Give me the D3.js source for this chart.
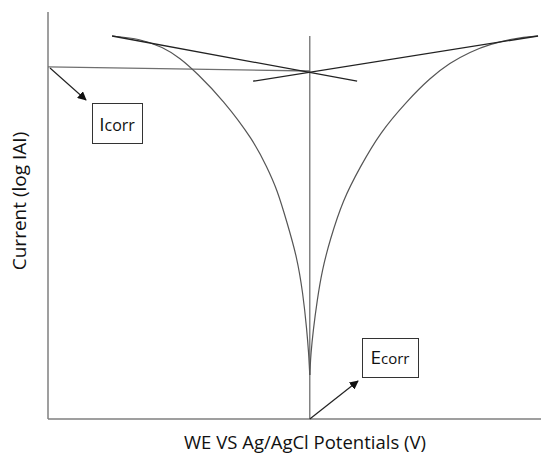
<!DOCTYPE html>
<html lang="en">
<head>
<meta charset="UTF-8">
<title>Tafel plot</title>
<style>
  body { margin: 0; background: #fff; }
  text { font-family: "Open Sans", "Liberation Sans", sans-serif; }
</style>
</head>
<body>
<div id="viz-wrapper"></div>
<script src="https://cdn.jsdelivr.net/npm/d3@7"></script>
<script type="text/javascript">
// potential (relative units) and log current (relative units)
var anodicX  = [53.1, 53.2, 53.3, 53.8, 54.6, 55.6, 57.2, 59.8, 63.3, 67.3, 72.8, 77.5, 81.5, 85.6, 89.7, 94.7, 99.4];
var anodicY  = [10.8, 13.0, 15.7, 21.9, 29.2, 36.6, 44.0, 53.8, 61.9, 70.3, 78.1, 83.8, 87.5, 90.2, 92.1, 93.6, 94.1];
var cathodicX = [53.1, 53.0, 52.9, 52.5, 51.7, 50.5, 48.5, 46.5, 44.4, 41.6, 35.5, 30.2, 26.8, 23.3, 18.7, 13.0];
var cathodicY = [10.8, 13.0, 15.7, 21.9, 31.0, 39.8, 48.2, 56.3, 61.9, 68.6, 78.4, 85.0, 88.7, 91.4, 93.4, 94.1];

// tafel extrapolation lines
var tafelCathodic = [[13.0, 94.1], [62.7, 83.0]];
var tafelAnodic   = [[41.6, 83.0], [99.4, 94.1]];

var eCorr = 53.1;
var iCorrLine = [[0, 86.5], [53.1, 85.5]];
var ecorrLine = [[53.1, 0], [53.1, 94.1]];

var xTitle = "WE VS Ag/AgCl Potentials (V)";
var yTitle = "Current (log IAI)";

var width = 541, height = 462;

var svg = d3.select("#viz-wrapper").append("svg")
  .attr("width", width)
  .attr("height", height);

var x = d3.scaleLinear().domain([0, 100]).range([48, 541]);
var y = d3.scaleLinear().domain([0, 100]).range([419, 12]);

var line = d3.line()
  .x(function(d) { return x(d[0]); })
  .y(function(d) { return y(d[1]); });

var defs = svg.append("defs");
defs.append("marker")
  .attr("id", "arrow")
  .attr("viewBox", "0 0 10 10")
  .attr("refX", 9).attr("refY", 5)
  .attr("markerWidth", 9).attr("markerHeight", 9)
  .attr("markerUnits", "userSpaceOnUse")
  .attr("orient", "auto")
  .append("path")
  .attr("d", "M0,0 L10,5 L0,10 Z")
  .attr("fill", "#111");

// axes (plain lines, no ticks)
svg.append("line")
  .attr("x1", x(0)).attr("x2", x(0))
  .attr("y1", y(0)).attr("y2", y(100))
  .attr("stroke", "#7f7f7f").attr("stroke-width", 1.5);
svg.append("line")
  .attr("x1", x(0)).attr("x2", x(100))
  .attr("y1", y(0)).attr("y2", y(0))
  .attr("stroke", "#7f7f7f").attr("stroke-width", 1.5);

// Ecorr vertical
svg.append("path").datum(ecorrLine)
  .attr("d", line).attr("fill", "none")
  .attr("stroke", "#6f6f6f").attr("stroke-width", 1.3);

// Icorr horizontal
svg.append("path").datum(iCorrLine)
  .attr("d", line).attr("fill", "none")
  .attr("stroke", "#6f6f6f").attr("stroke-width", 1.3);

// polarisation curves, smoothed
var curve = d3.line()
  .x(function(d) { return x(d[0]); })
  .y(function(d) { return y(d[1]); })
  .curve(d3.curveBasis);

svg.append("path").datum(d3.zip(anodicX, anodicY))
  .attr("d", curve).attr("fill", "none")
  .attr("stroke", "#555").attr("stroke-width", 1.2);
svg.append("path").datum(d3.zip(cathodicX, cathodicY))
  .attr("d", curve).attr("fill", "none")
  .attr("stroke", "#555").attr("stroke-width", 1.2);

// tafel lines
[tafelCathodic, tafelAnodic].forEach(function(t) {
  svg.append("path").datum(t)
    .attr("d", line).attr("fill", "none")
    .attr("stroke", "#222").attr("stroke-width", 1.3);
});

// Icorr annotation
svg.append("line")
  .attr("x1", x(iCorrLine[0][0]) + 2).attr("y1", y(iCorrLine[0][1]) + 1)
  .attr("x2", 86).attr("y2", 100)
  .attr("stroke", "#222").attr("stroke-width", 1.2)
  .attr("marker-end", "url(#arrow)");
svg.append("rect")
  .attr("x", 92.5).attr("y", 103.5).attr("width", 50).attr("height", 40)
  .attr("fill", "#fff").attr("stroke", "#333").attr("stroke-width", 1);
var it = svg.append("text")
  .attr("x", 117).attr("y", 131)
  .attr("text-anchor", "middle")
  .attr("fill", "#111");
it.append("tspan").attr("font-size", 19).text("I");
it.append("tspan").attr("font-size", 16).text("corr");

// Ecorr annotation
svg.append("line")
  .attr("x1", x(eCorr)).attr("y1", y(0))
  .attr("x2", 358).attr("y2", 381)
  .attr("stroke", "#222").attr("stroke-width", 1.2)
  .attr("marker-end", "url(#arrow)");
svg.append("rect")
  .attr("x", 362.5).attr("y", 338.5).attr("width", 56).attr("height", 39)
  .attr("fill", "#fff").attr("stroke", "#333").attr("stroke-width", 1);
var et = svg.append("text")
  .attr("x", 390).attr("y", 364)
  .attr("text-anchor", "middle")
  .attr("fill", "#111");
et.append("tspan").attr("font-size", 19).text("E");
et.append("tspan").attr("font-size", 15).text("corr");

// axis titles
svg.append("text")
  .attr("x", 305).attr("y", 449)
  .attr("text-anchor", "middle")
  .attr("font-size", 18.5)
  .attr("fill", "#111")
  .text(xTitle);
svg.append("text")
  .attr("transform", "translate(26,201) rotate(-90)")
  .attr("text-anchor", "middle")
  .attr("font-size", 19)
  .attr("fill", "#111")
  .text(yTitle);
</script>
</body>
</html>
